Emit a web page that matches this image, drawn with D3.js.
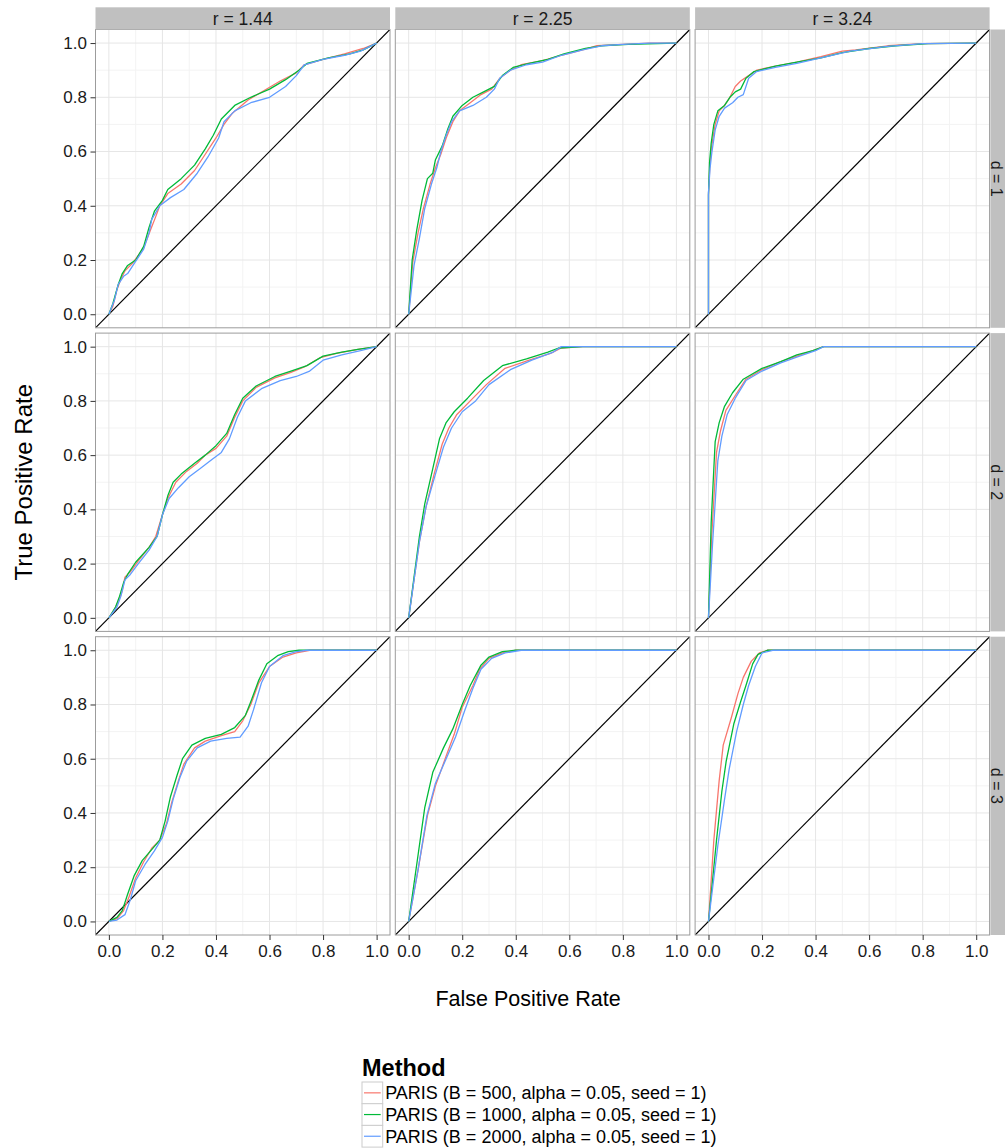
<!DOCTYPE html>
<html>
<head>
<meta charset="utf-8">
<script src="https://cdn.jsdelivr.net/npm/d3@7"></script>
<style>
  body { margin: 0; background: #fff; }
  svg text { font-family: "Liberation Sans", Arial, Helvetica, sans-serif; }
</style>
</head>
<body>
<svg width="1005" height="1148"></svg>
<script>
// Facet labels
const rLabels = ["r = 1.44", "r = 2.25", "r = 3.24"];
const dLabels = ["d = 1", "d = 2", "d = 3"];
const methods = [
  "PARIS (B = 500, alpha = 0.05, seed = 1)",
  "PARIS (B = 1000, alpha = 0.05, seed = 1)",
  "PARIS (B = 2000, alpha = 0.05, seed = 1)"
];
const majorTicks = [0, 0.2, 0.4, 0.6, 0.8, 1.0];
const minorTicks = [0.1, 0.3, 0.5, 0.7, 0.9];

// ROC curves, as [fpr, tpr] pairs
// d = 1, r = 1.44
const roc_d1_r144_B500 = [[0,0],[0.015,0.03],[0.03,0.09],[0.045,0.13],[0.06,0.16],[0.09,0.19],[0.13,0.245],[0.155,0.31],[0.175,0.36],[0.19,0.4],[0.22,0.445],[0.27,0.48],[0.32,0.53],[0.36,0.59],[0.4,0.65],[0.43,0.7],[0.46,0.74],[0.52,0.79],[0.58,0.825],[0.64,0.86],[0.7,0.89],[0.73,0.92],[0.8,0.94],[0.88,0.96],[0.95,0.98],[1,1]];
const roc_d1_r144_B1000 = [[0,0],[0.015,0.04],[0.035,0.11],[0.05,0.15],[0.07,0.18],[0.1,0.2],[0.13,0.25],[0.15,0.32],[0.17,0.38],[0.2,0.42],[0.22,0.46],[0.27,0.5],[0.32,0.55],[0.36,0.61],[0.39,0.66],[0.42,0.72],[0.47,0.77],[0.53,0.8],[0.6,0.83],[0.66,0.865],[0.71,0.9],[0.74,0.925],[0.82,0.945],[0.9,0.96],[0.95,0.975],[1,1]];
const roc_d1_r144_B2000 = [[0,0],[0.02,0.05],[0.035,0.11],[0.055,0.14],[0.07,0.15],[0.09,0.18],[0.13,0.24],[0.15,0.3],[0.16,0.35],[0.19,0.4],[0.23,0.43],[0.28,0.46],[0.33,0.52],[0.37,0.58],[0.41,0.65],[0.43,0.71],[0.47,0.75],[0.53,0.78],[0.6,0.8],[0.66,0.84],[0.7,0.88],[0.73,0.92],[0.8,0.94],[0.88,0.955],[0.94,0.97],[1,1]];
// d = 1, r = 2.25
const roc_d1_r225_B500 = [[0,0],[0.015,0.19],[0.035,0.3],[0.055,0.39],[0.08,0.48],[0.1,0.54],[0.12,0.59],[0.14,0.65],[0.165,0.71],[0.19,0.75],[0.23,0.78],[0.27,0.81],[0.31,0.83],[0.34,0.87],[0.38,0.9],[0.42,0.92],[0.5,0.935],[0.57,0.955],[0.65,0.975],[0.7,0.99],[0.8,0.995],[0.9,1],[1,1]];
const roc_d1_r225_B1000 = [[0,0],[0.013,0.2],[0.03,0.31],[0.05,0.42],[0.07,0.5],[0.09,0.52],[0.1,0.57],[0.125,0.62],[0.145,0.68],[0.165,0.73],[0.2,0.77],[0.24,0.8],[0.28,0.82],[0.32,0.84],[0.35,0.88],[0.39,0.91],[0.45,0.925],[0.52,0.94],[0.58,0.96],[0.66,0.98],[0.72,0.99],[0.82,0.995],[1,1]];
const roc_d1_r225_B2000 = [[0,0],[0.02,0.18],[0.04,0.28],[0.06,0.39],[0.085,0.48],[0.105,0.54],[0.12,0.6],[0.14,0.66],[0.16,0.71],[0.19,0.75],[0.24,0.77],[0.29,0.8],[0.32,0.83],[0.34,0.87],[0.38,0.9],[0.44,0.92],[0.5,0.93],[0.57,0.955],[0.65,0.975],[0.72,0.99],[0.8,0.995],[0.9,1],[1,1]];
// d = 1, r = 3.24
const roc_d1_r324_B500 = [[0,0],[0,0.44],[0.005,0.55],[0.012,0.62],[0.025,0.7],[0.04,0.75],[0.06,0.77],[0.08,0.8],[0.1,0.84],[0.12,0.86],[0.15,0.88],[0.18,0.9],[0.25,0.915],[0.33,0.93],[0.42,0.95],[0.5,0.97],[0.55,0.975],[0.67,0.99],[0.8,0.998],[1,1]];
const roc_d1_r324_B1000 = [[0,0],[0,0.44],[0.004,0.56],[0.01,0.63],[0.02,0.7],[0.035,0.75],[0.06,0.77],[0.08,0.8],[0.1,0.82],[0.12,0.83],[0.14,0.87],[0.17,0.895],[0.25,0.915],[0.33,0.93],[0.42,0.945],[0.5,0.965],[0.6,0.98],[0.7,0.99],[0.82,0.998],[1,1]];
const roc_d1_r324_B2000 = [[0,0],[0,0.45],[0.006,0.54],[0.013,0.6],[0.025,0.68],[0.04,0.73],[0.06,0.76],[0.09,0.78],[0.11,0.8],[0.13,0.81],[0.15,0.87],[0.18,0.895],[0.25,0.91],[0.33,0.925],[0.42,0.945],[0.53,0.97],[0.67,0.988],[0.8,0.998],[1,1]];
// d = 2, r = 1.44
const roc_d2_r144_B500 = [[0,0],[0.02,0.03],[0.035,0.06],[0.05,0.1],[0.06,0.15],[0.08,0.17],[0.11,0.21],[0.15,0.26],[0.175,0.3],[0.2,0.38],[0.22,0.44],[0.25,0.5],[0.29,0.54],[0.33,0.57],[0.36,0.6],[0.4,0.625],[0.44,0.67],[0.47,0.74],[0.5,0.8],[0.55,0.85],[0.62,0.885],[0.68,0.905],[0.73,0.925],[0.79,0.96],[0.85,0.975],[0.93,0.99],[1,1]];
const roc_d2_r144_B1000 = [[0,0],[0.025,0.04],[0.04,0.08],[0.055,0.13],[0.07,0.16],[0.1,0.205],[0.15,0.26],[0.18,0.3],[0.2,0.38],[0.22,0.45],[0.24,0.5],[0.27,0.53],[0.32,0.57],[0.36,0.6],[0.4,0.635],[0.44,0.68],[0.47,0.75],[0.5,0.81],[0.55,0.855],[0.62,0.89],[0.68,0.91],[0.74,0.93],[0.8,0.965],[0.87,0.98],[0.93,0.99],[1,1]];
const roc_d2_r144_B2000 = [[0,0],[0.03,0.04],[0.045,0.08],[0.06,0.14],[0.08,0.16],[0.11,0.2],[0.15,0.25],[0.18,0.3],[0.2,0.38],[0.225,0.44],[0.26,0.48],[0.3,0.52],[0.34,0.55],[0.38,0.58],[0.42,0.61],[0.45,0.66],[0.48,0.74],[0.51,0.8],[0.57,0.845],[0.64,0.875],[0.7,0.89],[0.75,0.91],[0.8,0.95],[0.87,0.97],[0.94,0.985],[1,1]];
// d = 2, r = 2.25
const roc_d2_r225_B500 = [[0,0],[0.02,0.14],[0.04,0.28],[0.065,0.41],[0.095,0.53],[0.125,0.64],[0.15,0.7],[0.18,0.75],[0.23,0.8],[0.29,0.86],[0.36,0.92],[0.45,0.95],[0.53,0.975],[0.57,0.995],[0.65,1],[1,1]];
const roc_d2_r225_B1000 = [[0,0],[0.02,0.15],[0.04,0.3],[0.06,0.42],[0.09,0.55],[0.115,0.66],[0.14,0.72],[0.17,0.76],[0.22,0.81],[0.28,0.875],[0.35,0.93],[0.44,0.955],[0.52,0.98],[0.56,0.995],[0.65,1],[1,1]];
const roc_d2_r225_B2000 = [[0,0],[0.02,0.14],[0.04,0.28],[0.065,0.41],[0.1,0.53],[0.13,0.63],[0.16,0.7],[0.2,0.76],[0.25,0.8],[0.3,0.86],[0.38,0.915],[0.46,0.95],[0.54,0.98],[0.57,1],[1,1]];
// d = 2, r = 3.24
const roc_d2_r324_B500 = [[0,0],[0.012,0.3],[0.03,0.61],[0.045,0.69],[0.065,0.765],[0.1,0.82],[0.14,0.88],[0.2,0.915],[0.27,0.945],[0.33,0.965],[0.39,0.985],[0.43,1],[1,1]];
const roc_d2_r324_B1000 = [[0,0],[0.01,0.35],[0.025,0.65],[0.04,0.72],[0.06,0.78],[0.09,0.83],[0.13,0.88],[0.2,0.92],[0.27,0.945],[0.33,0.97],[0.39,0.985],[0.43,1],[1,1]];
const roc_d2_r324_B2000 = [[0,0],[0.015,0.27],[0.035,0.58],[0.05,0.67],[0.07,0.75],[0.1,0.81],[0.14,0.875],[0.2,0.91],[0.27,0.94],[0.34,0.965],[0.4,0.985],[0.43,1],[1,1]];
// d = 3, r = 1.44
const roc_d3_r144_B500 = [[0,0],[0.03,0.01],[0.055,0.04],[0.075,0.09],[0.1,0.16],[0.13,0.22],[0.16,0.27],[0.19,0.3],[0.215,0.36],[0.235,0.44],[0.26,0.52],[0.28,0.58],[0.32,0.64],[0.36,0.665],[0.42,0.685],[0.47,0.7],[0.5,0.74],[0.53,0.8],[0.56,0.88],[0.6,0.94],[0.65,0.975],[0.7,0.99],[0.75,1],[1,1]];
const roc_d3_r144_B1000 = [[0,0],[0.03,0.015],[0.05,0.04],[0.07,0.1],[0.095,0.17],[0.125,0.225],[0.16,0.265],[0.19,0.3],[0.21,0.37],[0.23,0.46],[0.255,0.54],[0.275,0.6],[0.31,0.65],[0.36,0.675],[0.42,0.69],[0.47,0.715],[0.51,0.76],[0.53,0.81],[0.56,0.89],[0.59,0.95],[0.63,0.98],[0.67,0.995],[0.71,1],[1,1]];
const roc_d3_r144_B2000 = [[0,0],[0.03,0.005],[0.06,0.025],[0.08,0.08],[0.1,0.15],[0.135,0.21],[0.17,0.26],[0.2,0.31],[0.22,0.37],[0.24,0.45],[0.265,0.53],[0.29,0.59],[0.33,0.64],[0.38,0.665],[0.44,0.675],[0.49,0.68],[0.52,0.72],[0.54,0.78],[0.57,0.88],[0.6,0.94],[0.65,0.98],[0.7,0.995],[0.74,1],[1,1]];
// d = 3, r = 2.25
const roc_d3_r225_B500 = [[0,0],[0.035,0.19],[0.07,0.39],[0.1,0.5],[0.14,0.61],[0.17,0.69],[0.2,0.79],[0.24,0.87],[0.265,0.93],[0.3,0.97],[0.35,0.99],[0.4,1],[1,1]];
const roc_d3_r225_B1000 = [[0,0],[0.03,0.21],[0.06,0.42],[0.09,0.55],[0.13,0.64],[0.165,0.71],[0.2,0.8],[0.23,0.87],[0.27,0.945],[0.3,0.975],[0.35,0.995],[0.4,1],[1,1]];
const roc_d3_r225_B2000 = [[0,0],[0.035,0.19],[0.068,0.39],[0.1,0.51],[0.14,0.6],[0.175,0.68],[0.21,0.78],[0.24,0.86],[0.27,0.93],[0.31,0.97],[0.36,0.99],[0.42,1],[1,1]];
// d = 3, r = 3.24
const roc_d3_r324_B500 = [[0,0],[0.02,0.3],[0.04,0.52],[0.055,0.65],[0.085,0.75],[0.11,0.84],[0.13,0.9],[0.16,0.96],[0.19,0.99],[0.22,1],[1,1]];
const roc_d3_r324_B1000 = [[0,0],[0.03,0.3],[0.05,0.48],[0.066,0.59],[0.095,0.73],[0.12,0.81],[0.14,0.87],[0.165,0.95],[0.185,0.985],[0.22,1],[1,1]];
const roc_d3_r324_B2000 = [[0,0],[0.035,0.28],[0.06,0.45],[0.077,0.56],[0.105,0.7],[0.13,0.8],[0.15,0.87],[0.175,0.94],[0.2,0.99],[0.24,1],[1,1]];

// Grid of panels: rows are d, columns are r, each cell lists the three methods
const panels = [
  [[roc_d1_r144_B500, roc_d1_r144_B1000, roc_d1_r144_B2000],
   [roc_d1_r225_B500, roc_d1_r225_B1000, roc_d1_r225_B2000],
   [roc_d1_r324_B500, roc_d1_r324_B1000, roc_d1_r324_B2000]],
  [[roc_d2_r144_B500, roc_d2_r144_B1000, roc_d2_r144_B2000],
   [roc_d2_r225_B500, roc_d2_r225_B1000, roc_d2_r225_B2000],
   [roc_d2_r324_B500, roc_d2_r324_B1000, roc_d2_r324_B2000]],
  [[roc_d3_r144_B500, roc_d3_r144_B1000, roc_d3_r144_B2000],
   [roc_d3_r225_B500, roc_d3_r225_B1000, roc_d3_r225_B2000],
   [roc_d3_r324_B500, roc_d3_r324_B1000, roc_d3_r324_B2000]]
];

const svg = d3.select("svg");

// Layout of the facet grid
const gridLeft = 95.5, gridTop = 29.5, pw = 294.5, ph = 298.3, gap = 5.3;
const stripH = 22.2;

const color = d3.scaleOrdinal().domain(methods).range(["#F8766D", "#00BA38", "#619CFF"]);
const x = d3.scaleLinear().domain([-0.05, 1.05]).range([0, pw]);
const y = d3.scaleLinear().domain([-0.05, 1.05]).range([ph, 0]);
const line = d3.line().x(d => x(d[0])).y(d => y(d[1]));
const fmt = d3.format(".1f");

svg.append("defs").append("clipPath").attr("id", "panel-clip")
   .append("rect").attr("width", pw).attr("height", ph);

panels.forEach((row, ri) => {
    row.forEach((cell, ci) => {
        const px = gridLeft + ci * (pw + gap), py = gridTop + ri * (ph + gap);
        const g = svg.append("g").attr("transform", `translate(${px},${py})`);

        g.append("rect").attr("width", pw).attr("height", ph).attr("fill", "#fff");

        // minor then major grid
        g.selectAll(".minx").data(minorTicks).join("line")
         .attr("x1", d => x(d)).attr("x2", d => x(d)).attr("y1", 0).attr("y2", ph)
         .attr("stroke", "#f3f3f3").attr("stroke-width", 1);
        g.selectAll(".miny").data(minorTicks).join("line")
         .attr("y1", d => y(d)).attr("y2", d => y(d)).attr("x1", 0).attr("x2", pw)
         .attr("stroke", "#f3f3f3").attr("stroke-width", 1);
        g.selectAll(".majx").data(majorTicks).join("line")
         .attr("x1", d => x(d)).attr("x2", d => x(d)).attr("y1", 0).attr("y2", ph)
         .attr("stroke", "#e6e6e6").attr("stroke-width", 1);
        g.selectAll(".majy").data(majorTicks).join("line")
         .attr("y1", d => y(d)).attr("y2", d => y(d)).attr("x1", 0).attr("x2", pw)
         .attr("stroke", "#e6e6e6").attr("stroke-width", 1);

        const inner = g.append("g").attr("clip-path", "url(#panel-clip)");
        // diagonal reference line (abline)
        inner.append("line")
             .attr("x1", x(-0.05)).attr("y1", y(-0.05))
             .attr("x2", x(1.05)).attr("y2", y(1.05))
             .attr("stroke", "#000").attr("stroke-width", 1.2);

        cell.forEach((pts, mi) => {
            inner.append("path").datum(pts)
                 .attr("d", line)
                 .attr("fill", "none")
                 .attr("stroke", color(methods[mi]))
                 .attr("stroke-width", 1.3)
                 .attr("stroke-linejoin", "round");
        });

        g.append("rect").attr("width", pw).attr("height", ph)
         .attr("fill", "none").attr("stroke", "#9c9c9c").attr("stroke-width", 1);

        // axes on the outer panels only
        if (ci === 0) {
            const ax = g.append("g").call(d3.axisLeft(y).tickValues(majorTicks).tickFormat(fmt).tickSize(5).tickPadding(3.5));
            ax.select(".domain").remove();
            ax.selectAll("line").attr("stroke", "#333");
            ax.selectAll("text").attr("font-size", 17).attr("fill", "#1a1a1a").attr("font-family", null);
        }
        if (ri === panels.length - 1) {
            const ax = g.append("g").attr("transform", `translate(0,${ph})`)
                        .call(d3.axisBottom(x).tickValues(majorTicks).tickFormat(fmt).tickSize(5).tickPadding(5));
            ax.select(".domain").remove();
            ax.selectAll("line").attr("stroke", "#333");
            ax.selectAll("text").attr("font-size", 17).attr("fill", "#1a1a1a").attr("font-family", null);
        }

        // strips
        if (ri === 0) {
            svg.append("rect").attr("x", px).attr("y", gridTop - stripH)
               .attr("width", pw).attr("height", stripH).attr("fill", "#c0c0c0");
            svg.append("text").attr("x", px + pw / 2).attr("y", gridTop - stripH / 2)
               .attr("dy", "0.36em").attr("text-anchor", "middle")
               .attr("font-size", 17.5).attr("fill", "#1a1a1a").text(rLabels[ci]);
        }
        if (ci === row.length - 1) {
            const sx = px + pw + 0.8;
            svg.append("rect").attr("x", sx).attr("y", py)
               .attr("width", stripH).attr("height", ph).attr("fill", "#c0c0c0");
            // the strip runs past the right edge of the figure; keep its label inside
            svg.append("text")
               .attr("transform", `translate(996.5,${py + ph / 2}) rotate(90)`)
               .attr("dy", "0.36em").attr("text-anchor", "middle")
               .attr("font-size", 16).attr("fill", "#1a1a1a").text(dLabels[ri]);
        }
    });
});

// Axis titles
svg.append("text").attr("x", 528).attr("y", 998).attr("dy", "0.36em")
   .attr("text-anchor", "middle").attr("font-size", 21.5).attr("fill", "#000")
   .text("False Positive Rate");
svg.append("text").attr("transform", `translate(23.5,${gridTop + (3 * ph + 2 * gap) / 2}) rotate(-90)`)
   .attr("dy", "0.36em").attr("text-anchor", "middle").attr("font-size", 24).attr("fill", "#000")
   .text("True Positive Rate");

// Legend
const legend = svg.append("g").attr("transform", "translate(362,1058)");
legend.append("text").attr("x", 0).attr("y", 18).attr("font-size", 23.5)
      .attr("font-weight", "bold").attr("fill", "#000").text("Method");
const keyW = 20.7, keyH = 21.7;
const item = legend.selectAll(".item").data(methods).join("g")
      .attr("transform", (d, i) => `translate(0,${24 + i * keyH})`);
item.append("rect").attr("width", keyW).attr("height", keyH)
    .attr("fill", "#fff").attr("stroke", "#cccccc").attr("stroke-width", 1);
item.append("line").attr("x1", 2).attr("x2", keyW - 2)
    .attr("y1", keyH / 2).attr("y2", keyH / 2)
    .attr("stroke", d => color(d)).attr("stroke-width", 1.2);
item.append("text").attr("x", keyW + 2.5).attr("y", keyH / 2).attr("dy", "0.36em")
    .attr("font-size", 18).attr("fill", "#000").text(d => d);
</script>
</body>
</html>
